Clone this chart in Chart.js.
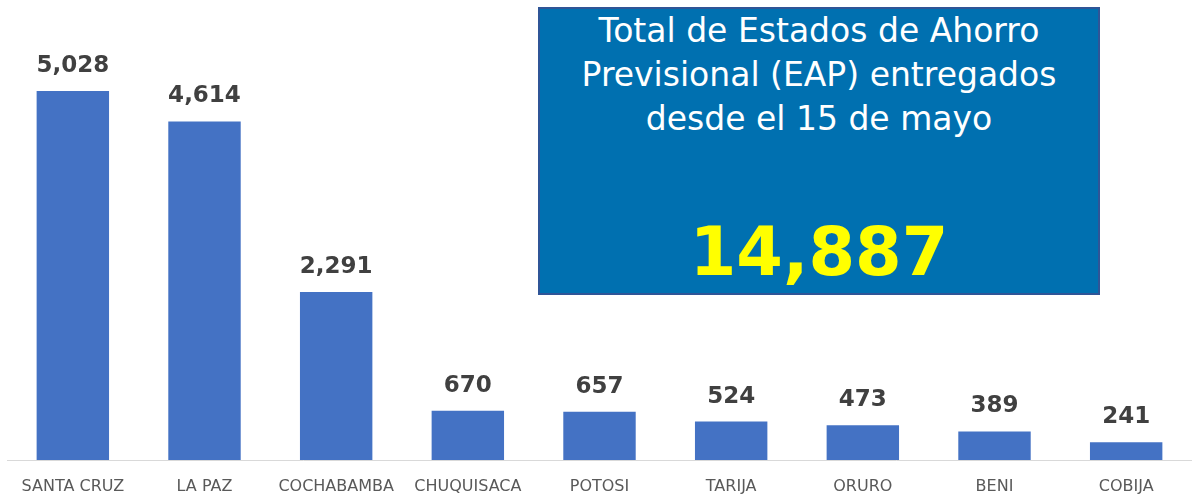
<!DOCTYPE html>
<html>
<head>
<meta charset="utf-8">
<script src="https://cdn.jsdelivr.net/npm/chart.js@4.4.0/dist/chart.umd.min.js"></script>
<style>
  body { margin: 0; background: #fff; }
  #wrap { position: relative; width: 1192px; height: 495px; }
  #chart { display: block; }
  #box {
    position: absolute; left: 538px; top: 7px; width: 558px; height: 284px;
    background: #0070B0; border: 2px solid #2F5597;
    font-family: "DejaVu Sans", sans-serif;
    color: #fff; text-align: center;
  }
  #box .title { margin-top: 0px; font-size: 33px; line-height: 44px; }
  #box .total { margin-top: 66px; font-size: 67px; font-weight: bold; color: #FFFF00; line-height: 90px; }
</style>
</head>
<body>
<div id="wrap">
  <canvas id="chart" width="1192" height="495"></canvas>
  <div id="box">
    <div class="title">Total de Estados de Ahorro<br>Previsional (EAP) entregados<br>desde el 15 de mayo</div>
    <div class="total">14,887</div>
  </div>
</div>
<script>
const departamentos = ['SANTA CRUZ', 'LA PAZ', 'COCHABAMBA', 'CHUQUISACA', 'POTOSI', 'TARIJA', 'ORURO', 'BENI', 'COBIJA'];
const entregados = [5028, 4614, 2291, 670, 657, 524, 473, 389, 241];

// etiquetas de valor encima de cada barra
const valueLabels = {
  id: 'valueLabels',
  afterDatasetsDraw(chart) {
    const ctx = chart.ctx;
    const meta = chart.getDatasetMeta(0);
    ctx.save();
    ctx.font = 'bold 23px "DejaVu Sans", sans-serif';
    ctx.fillStyle = '#404040';
    ctx.textAlign = 'center';
    ctx.textBaseline = 'middle';
    meta.data.forEach((bar, i) => {
      ctx.fillText(entregados[i].toLocaleString('en-US'), bar.x, bar.y - 25);
    });
    ctx.restore();
  }
};

new Chart(document.getElementById('chart'), {
  type: 'bar',
  data: {
    labels: departamentos,
    datasets: [{
      data: entregados,
      backgroundColor: '#4472C4',
      categoryPercentage: 1,
      barPercentage: 0.55
    }]
  },
  options: {
    responsive: false,
    animation: false,
    layout: { padding: { left: 7, right: 0, top: 0, bottom: 0 } },
    plugins: { legend: { display: false }, tooltip: { enabled: false } },
    scales: {
      y: { display: false, min: 0, max: 6270 },
      x: {
        afterFit(scale) { scale.height = 35; },
        grid: { display: false, drawTicks: false },
        border: { color: '#D9D9D9', width: 1 },
        ticks: {
          color: '#595959',
          padding: 17,
          maxRotation: 0,
          autoSkip: false,
          font: { family: '"DejaVu Sans", sans-serif', size: 16 }
        }
      }
    }
  },
  plugins: [valueLabels]
});
</script>
</body>
</html>
